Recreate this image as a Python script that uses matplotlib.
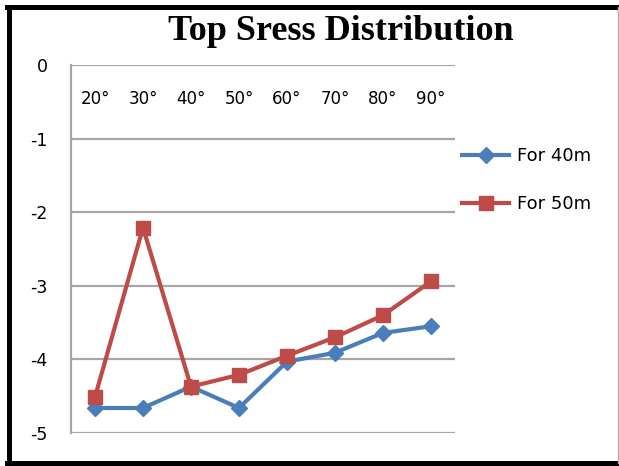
import matplotlib.pyplot as plt
from matplotlib.lines import Line2D

# angles and top stress values for the two depths
angles = ['20°', '30°', '40°', '50°', '60°', '70°', '80°', '90°']
stress_40m = [-4.66, -4.66, -4.37, -4.66, -4.03, -3.91, -3.64, -3.55]
stress_50m = [-4.51, -2.21, -4.37, -4.21, -3.95, -3.70, -3.40, -2.94]
y_ticks = [0, -1, -2, -3, -4, -5]

fig = plt.figure(figsize=(6.19, 4.66), dpi=100)
ax = fig.add_axes([71 / 619, 1 - 433 / 466, 384 / 619, 368 / 466])

x = range(len(angles))
ax.plot(x, stress_40m, color='#4a7ebb', lw=3, marker='D', ms=8, label='For 40m', zorder=3)
ax.plot(x, stress_50m, color='#be4b48', lw=3, marker='s', ms=10, label='For 50m', zorder=4)

ax.set_xlim(-0.5, len(angles) - 0.5)
ax.set_ylim(-5, 0)
ax.set_yticks(y_ticks)
ax.set_yticklabels([str(v) for v in y_ticks], fontsize=12.5)
ax.set_xticks(list(x))
ax.set_xticklabels(angles, fontsize=12)
# category labels sit just under the zero line
ax.tick_params(axis='x', length=0, bottom=False, labelbottom=False,
               top=True, labeltop=True, pad=-31)
ax.tick_params(axis='y', length=0, pad=17)

ax.grid(axis='y', color='#a6a6a6', lw=1.6)
ax.set_axisbelow(True)
for side in ['top', 'right', 'bottom']:
    ax.spines[side].set_visible(False)
ax.spines['left'].set_color('#a6a6a6')
ax.spines['left'].set_linewidth(1.6)

ax.legend(loc='upper left', bbox_to_anchor=(455 / 619, 1 - 140 / 466),
          bbox_transform=fig.transFigure, frameon=False, fontsize=13,
          handlelength=2.6, handletextpad=0.45, labelspacing=1.65, borderaxespad=0)

fig.text(0.55, 1 - 31 / 466, 'Top Sress Distribution', ha='center', va='center',
         family='Liberation Serif', weight='bold', fontsize=26)

# chart frame: heavy black on left/top/bottom, thin grey on the right
fig.add_artist(Line2D([8.5 / 619, 8.5 / 619], [1 - 6.5 / 466, 1 - 463 / 466], color='black', lw=3.6))
fig.add_artist(Line2D([6.5 / 619, 1], [1 - 6.5 / 466, 1 - 6.5 / 466], color='black', lw=3.6))
fig.add_artist(Line2D([6.5 / 619, 1], [1 - 463 / 466, 1 - 463 / 466], color='black', lw=3.6))
fig.add_artist(Line2D([617.5 / 619, 617.5 / 619], [1 - 6.5 / 466, 1 - 463 / 466], color='#b0b0b0', lw=1))

fig.savefig('out.png', dpi=100)
